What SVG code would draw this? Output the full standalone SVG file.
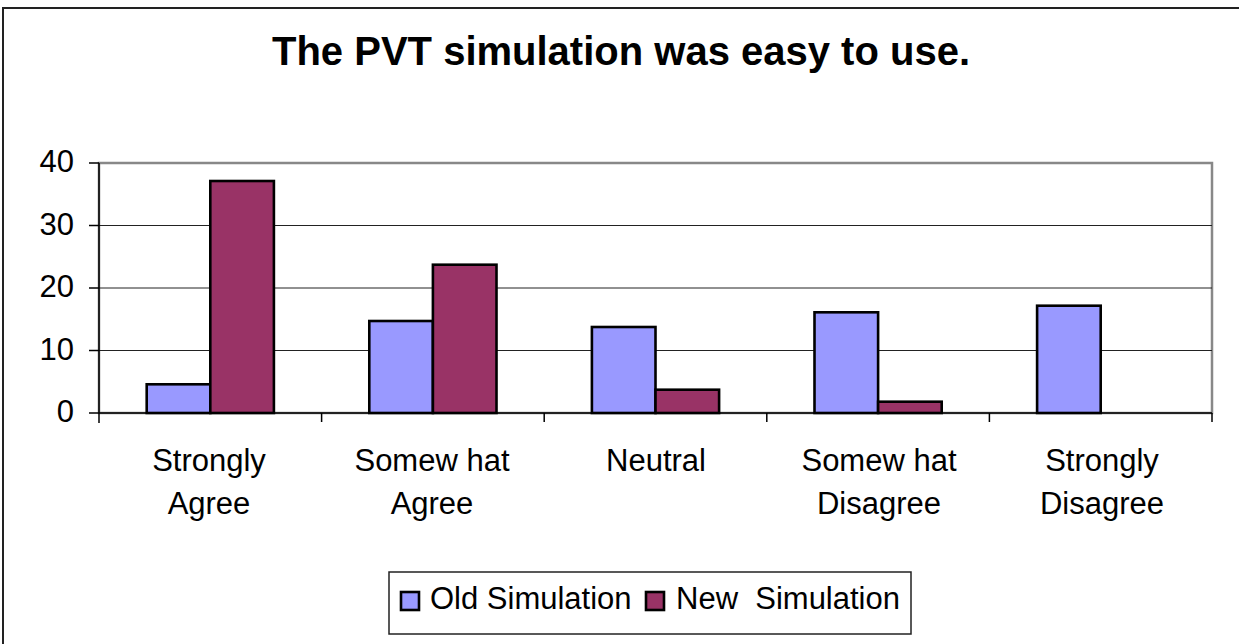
<svg xmlns="http://www.w3.org/2000/svg" width="1239" height="644" viewBox="0 0 1239 644">
<style>
text{font-family:"Liberation Sans",Arial,sans-serif;fill:#000}
.title{font-size:40px;font-weight:bold}
.lbl{font-size:31px}
.old{fill:#9999FF;stroke:#000;stroke-width:2.6}
.new{fill:#993366;stroke:#000;stroke-width:2.6}
.grid{stroke:#222;stroke-width:1}
.axis{stroke:#000;stroke-width:1.5}
</style>
<rect x="0" y="0" width="1239" height="644" fill="#fff"/>
<rect id="frame" x="3" y="8" width="1250" height="660" fill="#fff" stroke="#222" stroke-width="2"/>
<g id="title"><text class="title" x="621" y="65" text-anchor="middle">The PVT simulation was easy to use.</text></g>
<g id="plot">
<rect x="99" y="163" width="1113" height="250" fill="none" stroke="#888" stroke-width="2.5"/>
<line class="grid" x1="99" y1="225.5" x2="1212" y2="225.5" stroke="#777"/>
<line class="grid" x1="99" y1="288" x2="1212" y2="288"/>
<line class="grid" x1="99" y1="350.5" x2="1212" y2="350.5"/>
</g>
<g id="bars">
<rect class="old" x="146.7" y="384.3" width="63.6" height="28.7"/>
<rect class="new" x="210.3" y="181" width="63.6" height="232"/>
<rect class="old" x="369.3" y="321" width="63.6" height="92"/>
<rect class="new" x="432.9" y="264.7" width="63.6" height="148.3"/>
<rect class="old" x="591.9" y="327" width="63.6" height="86"/>
<rect class="new" x="655.5" y="389.7" width="63.6" height="23.3"/>
<rect class="old" x="814.5" y="312.3" width="63.6" height="100.7"/>
<rect class="new" x="878.1" y="401.7" width="63.6" height="11.3"/>
<rect class="old" x="1037.1" y="305.7" width="63.6" height="107.3"/>
</g>
<g id="axes">
<line class="axis" x1="99" y1="163" x2="99" y2="423"/>
<line class="axis" x1="99" y1="413" x2="1212" y2="413"/>
<line class="axis" x1="89" y1="163" x2="99" y2="163"/>
<line class="axis" x1="89" y1="225.5" x2="99" y2="225.5"/>
<line class="axis" x1="89" y1="288" x2="99" y2="288"/>
<line class="axis" x1="89" y1="350.5" x2="99" y2="350.5"/>
<line class="axis" x1="89" y1="413" x2="99" y2="413"/>
<line class="axis" x1="321.6" y1="413" x2="321.6" y2="422"/>
<line class="axis" x1="544.2" y1="413" x2="544.2" y2="422"/>
<line class="axis" x1="766.8" y1="413" x2="766.8" y2="422"/>
<line class="axis" x1="989.4" y1="413" x2="989.4" y2="422"/>
<line class="axis" x1="1212" y1="413" x2="1212" y2="422"/>
</g>
<g id="ylabels">
<text class="lbl" x="74" y="172" text-anchor="end">40</text>
<text class="lbl" x="74" y="234.5" text-anchor="end">30</text>
<text class="lbl" x="74" y="297" text-anchor="end">20</text>
<text class="lbl" x="74" y="359.5" text-anchor="end">10</text>
<text class="lbl" x="74" y="422" text-anchor="end">0</text>
</g>
<g id="xlabels">
<text class="lbl" x="209" y="471" text-anchor="middle">Strongly</text>
<text class="lbl" x="209" y="514" text-anchor="middle">Agree</text>
<text class="lbl" x="432" y="471" text-anchor="middle">Somew hat</text>
<text class="lbl" x="432" y="514" text-anchor="middle">Agree</text>
<text class="lbl" x="656" y="471" text-anchor="middle">Neutral</text>
<text class="lbl" x="879" y="471" text-anchor="middle">Somew hat</text>
<text class="lbl" x="879" y="514" text-anchor="middle">Disagree</text>
<text class="lbl" x="1102" y="471" text-anchor="middle">Strongly</text>
<text class="lbl" x="1102" y="514" text-anchor="middle">Disagree</text>
</g>
<g id="legend">
<rect x="389" y="572" width="522" height="62" fill="#fff" stroke="#222" stroke-width="1.5"/>
<rect class="old" x="401" y="592" width="18" height="18"/>
<text class="lbl" x="430" y="609">Old Simulation</text>
<rect class="new" x="646" y="592" width="18" height="18"/>
<text class="lbl" x="676" y="609" xml:space="preserve" style="white-space:pre">New  Simulation</text>
</g>
</svg>
